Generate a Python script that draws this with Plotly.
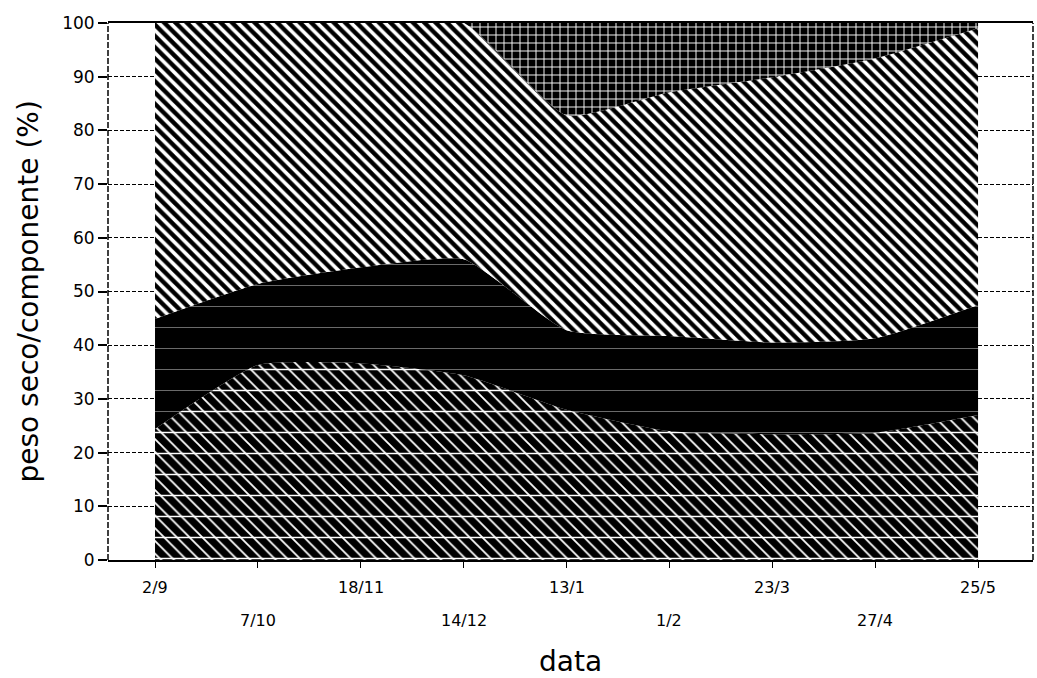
import numpy as np
import plotly.graph_objects as go

# ---- data ----
dates = ["2/9", "7/10", "18/11", "14/12", "13/1", "1/2", "23/3", "27/4", "25/5"]
comp_a = [24.4, 36.3, 36.6, 34.4, 28.0, 24.0, 23.4, 23.7, 27.0]   # bottom, cross-hatched
comp_b = [20.5, 15.1, 17.9, 21.6, 14.8, 17.7, 17.1, 17.6, 20.5]   # solid black
comp_c = [55.1, 48.6, 45.5, 44.0, 40.0, 45.4, 49.4, 52.1, 51.5]   # diagonal stripes
comp_d = [0.0, 0.0, 0.0, 0.0, 17.2, 12.9, 10.1, 6.6, 1.0]         # top, brick pattern
y_ticks = [0, 10, 20, 30, 40, 50, 60, 70, 80, 90, 100]

cum_a = np.array(comp_a)
cum_b = cum_a + np.array(comp_b)
cum_c = cum_b + np.array(comp_c)
cum_d = cum_c + np.array(comp_d)

FONT = "DejaVu Sans"
LS = dict(width=0, shape="spline", smoothing=0.5)

fig = go.Figure()
fig.add_trace(go.Scatter(
    x=dates, y=cum_a, mode="lines", line=LS, fill="tozeroy", fillcolor="black",
    fillpattern=dict(shape="\\", bgcolor="black", fgcolor="white", fgopacity=1,
                     size=9, solidity=0.2),
    hoverinfo="skip"))
fig.add_trace(go.Scatter(
    x=dates, y=cum_a, mode="lines", line=LS, fill="tozeroy", fillcolor="rgba(0,0,0,0)",
    fillpattern=dict(shape="-", bgcolor="rgba(0,0,0,0)", fgcolor="white", fgopacity=1,
                     size=21, solidity=0.07),
    hoverinfo="skip"))
fig.add_trace(go.Scatter(
    x=dates, y=cum_b, mode="lines", line=LS, fill="tonexty", fillcolor="black",
    fillpattern=dict(shape="-", bgcolor="black", fgcolor="#6a6a6a", fgopacity=1,
                     size=21, solidity=0.05),
    hoverinfo="skip"))
fig.add_trace(go.Scatter(
    x=dates, y=cum_c, mode="lines", line=LS, fill="tonexty", fillcolor="white",
    fillpattern=dict(shape="\\", bgcolor="white", fgcolor="black", fgopacity=1,
                     size=8, solidity=0.55),
    hoverinfo="skip"))
fig.add_trace(go.Scatter(
    x=dates, y=cum_d, mode="lines", line=LS, fill="tonexty", fillcolor="black",
    fillpattern=dict(shape="+", bgcolor="black", fgcolor="white", fgopacity=1,
                     size=8, solidity=0.22),
    hoverinfo="skip"))

annotations = []
for i, d in enumerate(dates):
    annotations.append(dict(
        x=d, xref="x", y=0, yref="paper", yshift=-27 if i % 2 == 0 else -60,
        text=d, showarrow=False, xanchor="center", yanchor="middle",
        font=dict(family=FONT, size=16, color="black")))
annotations.append(dict(
    x=0.5, xref="paper", y=0, yref="paper", yshift=-101, text="data",
    showarrow=False, xanchor="center", yanchor="middle",
    font=dict(family=FONT, size=28, color="black")))
annotations.append(dict(
    x=0, xref="paper", xshift=-80, y=0.5, yref="paper", text="peso seco/componente (%)",
    textangle=-90, showarrow=False, xanchor="center", yanchor="middle",
    font=dict(family=FONT, size=28, color="black")))

fig.update_layout(
    width=1037, height=678,
    margin=dict(l=108, r=4, t=23, b=118),
    paper_bgcolor="white", plot_bgcolor="white",
    showlegend=False,
    font=dict(family=FONT, color="black"),
    annotations=annotations,
    shapes=[
        dict(type="line", xref="paper", yref="paper", x0=0, x1=0, y0=0, y1=1,
             line=dict(color="black", width=1.5, dash="6px,2px")),
        dict(type="line", xref="paper", yref="paper", x0=1, x1=1, y0=0, y1=1,
             line=dict(color="black", width=1.5, dash="6px,2px")),
    ],
)
fig.update_xaxes(
    type="category", range=[-0.457, 8.534],
    showline=True, mirror=True, linecolor="black", linewidth=1.5,
    ticks="outside", ticklen=6, tickcolor="black", tickwidth=1,
    showticklabels=False, showgrid=False, zeroline=False)
fig.update_yaxes(
    range=[0, 100], tickvals=y_ticks, ticks="outside", ticklen=9, tickcolor="black",
    tickwidth=1.5, showgrid=True, gridcolor="black", gridwidth=1, griddash="4px,2px",
    showline=False, zeroline=False,
    tickfont=dict(family=FONT, size=17, color="black"))

fig.write_html("out.html")
